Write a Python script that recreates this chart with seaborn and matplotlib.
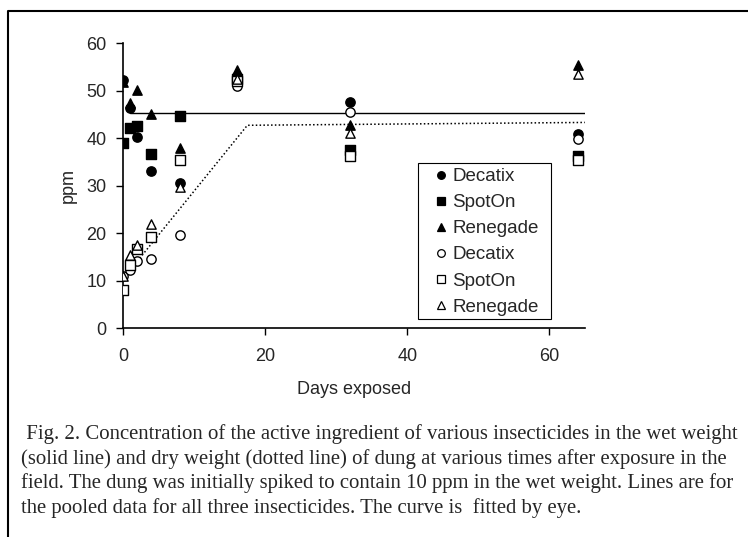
import numpy as np
import pandas as pd
import matplotlib
matplotlib.use('Agg')
from matplotlib import pyplot as plt
from matplotlib.lines import Line2D
from matplotlib.patches import Rectangle
import seaborn as sns

days = [0, 1, 2, 4, 8, 16, 32, 64]
decatix_wet = [52.2, 46.3, 40.3, 33.0, 30.6, 53.0, 47.6, 40.8]
spoton_wet = [38.9, 42.2, 42.5, 36.6, 44.6, 52.5, 37.6, 36.3]
renegade_wet = [51.8, 47.3, 50.1, 45.0, 38.0, 54.4, 42.7, 55.3]
decatix_dry = [10.9, 12.3, 14.1, 14.5, 19.6, 51.0, 45.5, 39.8]
spoton_dry = [8.1, 13.3, 16.6, 19.2, 35.4, 52.0, 36.2, 35.4]
renegade_dry = [11.0, 15.4, 17.5, 22.0, 29.8, 52.5, 41.0, 53.5]

# pooled lines (fitted by eye)
wet_line_x = [1, 65]
wet_line_y = [45.3, 45.3]
dry_line_x = [1, 17.5, 65]
dry_line_y = [12.2, 42.7, 43.3]

series = [
    ("Decatix", decatix_wet, "o", "black"),
    ("SpotOn", spoton_wet, "s", "black"),
    ("Renegade", renegade_wet, "^", "black"),
    ("Decatix", decatix_dry, "o", "white"),
    ("SpotOn", spoton_dry, "s", "white"),
    ("Renegade", renegade_dry, "^", "white"),
]

sns.set_style("ticks")
plt.rcParams['font.family'] = ['Liberation Sans', 'DejaVu Sans']

fig = plt.figure(figsize=(7.48, 5.37), dpi=100)
ax = fig.add_axes([0.1644, 0.389, 0.6176, 0.5307])

sns.lineplot(x=wet_line_x, y=wet_line_y, ax=ax, color="black", lw=1.0)
sns.lineplot(x=dry_line_x, y=dry_line_y, ax=ax, color="black", lw=1.1, linestyle=(0, (1, 1.5)))

for name, vals, mk, fc in series:
    df = pd.DataFrame({"day": days, "ppm": vals})
    sns.scatterplot(data=df, x="day", y="ppm", ax=ax, marker=mk, color=fc,
                    edgecolor="black", linewidth=1.0, s=45, zorder=3)

handles = [Line2D([], [], marker=mk, color="none", markerfacecolor=fc,
                  markeredgecolor="black", markersize=5.5, markeredgewidth=0.9)
           for name, vals, mk, fc in series]
labels = [name for name, vals, mk, fc in series]
ax.legend(handles, labels, loc="upper left", bbox_to_anchor=(0.668, 0.562),
          frameon=False, fontsize=13.5, handlelength=1.0, handletextpad=0.1,
          borderpad=0, labelspacing=0.48, borderaxespad=0)
ax.add_patch(Rectangle((0.6385, 0.0316), 0.2879, 0.5474, transform=ax.transAxes,
                       fill=False, edgecolor="black", lw=0.8, zorder=4, clip_on=False))

ax.set_xlim(0, 65)
ax.set_ylim(0, 60)
ax.set_xticks([0, 20, 40, 60])
ax.set_yticks(range(0, 61, 10))
ax.tick_params(labelsize=13, length=5, width=1, direction="out", color="black")
ax.tick_params(axis="x", pad=9)
ax.tick_params(axis="y", pad=7)
ax.set_xlabel("Days exposed", fontsize=13, labelpad=12)
ax.set_ylabel("ppm", fontsize=13, labelpad=7)
for sp in ["left", "bottom"]:
    ax.spines[sp].set_color("black")
    ax.spines[sp].set_linewidth(1.2)
sns.despine(ax=ax)

caption = (" Fig. 2. Concentration of the active ingredient of various insecticides in the wet weight\n"
           "(solid line) and dry weight (dotted line) of dung at various times after exposure in the\n"
           "field. The dung was initially spiked to contain 10 ppm in the wet weight. Lines are for\n"
           "the pooled data for all three insecticides. The curve is  fitted by eye.")
fig.text(21 / 748, 1 - 424 / 537, caption, family="Liberation Serif", fontsize=14.95,
         va="top", ha="left", linespacing=1.32)

# frame around figure (left and top visible)
fig.add_artist(Line2D([8 / 748, 8 / 748, 1.0], [0.0, 1 - 11 / 537, 1 - 11 / 537],
                      transform=fig.transFigure, color="black", lw=1.5))

plt.savefig("out.png", dpi=100)
